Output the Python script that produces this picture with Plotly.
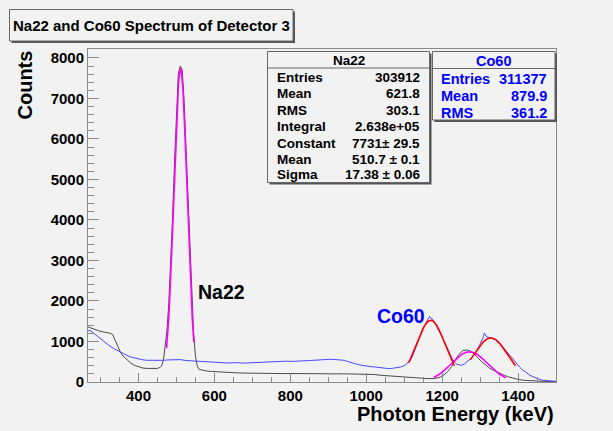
import plotly.graph_objects as go
import numpy as np

# ---------------- data ----------------
na22_x = [267, 275, 285, 295, 305, 315, 325, 332, 338, 345, 352, 360, 370, 380, 390, 400, 410, 420, 430, 440,
          450, 457, 462, 466, 470, 475, 480, 485, 490, 495, 500, 505, 510, 515, 520, 525, 530, 535, 540, 545,
          550, 555, 560, 570, 580, 590, 600, 620, 640, 660, 680, 700, 720, 740, 760, 780, 800, 820, 840, 860,
          880, 900, 920, 940, 960, 980, 1000, 1020, 1040, 1060, 1080, 1100, 1120, 1140, 1160, 1180, 1195, 1205,
          1215, 1225, 1235, 1245, 1255, 1265, 1275, 1285, 1295, 1305, 1315, 1325, 1335, 1345, 1355, 1365, 1375,
          1385, 1400, 1415, 1430, 1450, 1470, 1500]
na22_y = [1360, 1330, 1290, 1265, 1240, 1225, 1205, 1170, 1050, 880, 745, 635, 545, 465, 410, 375, 348, 336, 330, 328,
          335, 360, 420, 560, 830, 1270, 1955, 2910, 4110, 5440, 6690, 7620, 7800, 7720, 6980, 5790, 4450, 3190, 2150, 1250,
          640, 390, 310, 285, 270, 262, 255, 240, 232, 225, 220, 215, 212, 214, 210, 208, 210, 206, 204, 207,
          203, 205, 200, 203, 198, 200, 195, 185, 165, 150, 140, 125, 108, 92, 85, 85, 120, 175,
          260, 380, 560, 690, 780, 790, 760, 690, 590, 490, 420, 340, 290, 240, 200, 160, 125,
          95, 65, 42, 30, 22, 15, 10]

co60_x = [267, 272, 278, 285, 292, 299, 310, 320, 335, 348, 361, 378, 395, 410, 422, 440, 455, 466, 480, 495,
          510, 525, 540, 554, 570, 585, 598, 615, 630, 642, 660, 675, 686, 700, 715, 730, 745, 760, 774, 790,
          805, 818, 835, 850, 862, 875, 890, 905, 918, 932, 942, 950, 960, 976, 990, 1002, 1015, 1025, 1037, 1050,
          1064, 1078, 1090, 1100, 1108, 1115, 1121, 1128, 1134, 1141, 1147, 1154, 1160, 1164, 1167, 1170, 1174, 1180,
          1187, 1193, 1200, 1207, 1213, 1220, 1226, 1233, 1239, 1246, 1252, 1259, 1266, 1272, 1279, 1285, 1292, 1298,
          1305, 1309, 1311, 1314, 1318, 1325, 1332, 1338, 1345, 1351, 1358, 1364, 1371, 1378, 1384, 1391, 1397, 1404,
          1411, 1418, 1424, 1431, 1437, 1444, 1450, 1458, 1467, 1476, 1485, 1492, 1500]
co60_y = [1260, 1275, 1235, 1180, 1120, 1070, 990, 920, 825, 755, 700, 620, 580, 550, 536, 530, 540, 536, 545, 548,
          553, 530, 520, 511, 500, 490, 479, 485, 472, 470, 478, 465, 470, 480, 488, 494, 500, 505, 511, 515,
          508, 519, 525, 530, 536, 545, 550, 561, 555, 553, 535, 511, 480, 437, 410, 387, 375, 370, 350, 340,
          330, 345, 370, 400, 453, 520, 617, 780, 947, 1110, 1276, 1390, 1481, 1540, 1620, 1575, 1563, 1470,
          1358, 1240, 1111, 970, 825, 690, 577, 490, 437, 420, 412, 450, 494, 550, 617, 700, 783, 900,
          1030, 1120, 1210, 1160, 1111, 1100, 1087, 1060, 1030, 970, 906, 820, 741, 660, 577, 500, 437, 370,
          306, 255, 207, 170, 140, 110, 84, 60, 42, 30, 25, 20, 15]

# gaussian fits: [constant, mean, sigma, x_min, x_max]
na22_fit_511 = [7731, 510.7, 17.38, 474, 546]
na22_fit_1274 = [745, 1272, 48, 1178, 1368]
co60_fit_1173 = [1523, 1170, 38, 1112, 1232]
co60_fit_1332 = [1087, 1328, 46, 1274, 1393]

x_ticks = [400, 600, 800, 1000, 1200, 1400]
y_ticks = [0, 1000, 2000, 3000, 4000, 5000, 6000, 7000, 8000]

na22_stats = [("Entries", "303912"), ("Mean", "621.8"), ("RMS", "303.1"), ("Integral", "2.638e+05"),
              ("Constant", "7731\u00b1 29.5"), ("Mean", "510.7 \u00b1 0.1"), ("Sigma", "17.38 \u00b1 0.06")]
co60_stats = [("Entries", "311377"), ("Mean", "879.9"), ("RMS", "361.2")]

# ---------------- layout helpers ----------------
W, H = 613, 431
L, R, T, B = 88, 556, 49, 382
FONT = "Liberation Sans, Arial, Helvetica, sans-serif"
BG = "#f2f2f2"
AX = "#8a8a8a"


def px(x):
    return (x - L) / (R - L)


def py(y):
    return (B - y) / (B - T)


def fit_curve(p):
    xs = np.linspace(p[3], p[4], 120)
    return xs, p[0] * np.exp(-0.5 * ((xs - p[1]) / p[2]) ** 2)


fig = go.Figure()
fig.add_trace(go.Scatter(x=na22_x, y=na22_y, mode="lines", line=dict(color="#4a4a4a", width=1), hoverinfo="skip"))
fig.add_trace(go.Scatter(x=co60_x, y=co60_y, mode="lines", line=dict(color="#4848ff", width=1), hoverinfo="skip"))
for p, c in [(na22_fit_511, "#ff00ff"), (na22_fit_1274, "#ff00ff"), (co60_fit_1173, "#ff0000"), (co60_fit_1332, "#ff0000")]:
    xs, ys = fit_curve(p)
    fig.add_trace(go.Scatter(x=xs, y=ys, mode="lines", line=dict(color=c, width=1.6), hoverinfo="skip"))

shapes = []
annotations = []


def box(x0, y0, x1, y1, header_y=None):
    shapes.append(dict(type="rect", xref="paper", yref="paper", x0=px(x0 + 2), y0=py(y1 + 2), x1=px(x1 + 2), y1=py(y0 + 2),
                       line=dict(width=0), fillcolor="#555555", layer="above"))
    shapes.append(dict(type="rect", xref="paper", yref="paper", x0=px(x0), y0=py(y1), x1=px(x1), y1=py(y0),
                       line=dict(width=1, color="#666666"), fillcolor=BG, layer="above"))
    if header_y is not None:
        shapes.append(dict(type="line", xref="paper", yref="paper", x0=px(x0), y0=py(header_y), x1=px(x1), y1=py(header_y),
                           line=dict(width=1, color="#666666"), layer="above"))


def text(t, x, y, size, color="black", xanchor="left", angle=0, yanchor="middle"):
    annotations.append(dict(text=t, x=px(x), y=py(y), xref="paper", yref="paper", showarrow=False,
                            xanchor=xanchor, yanchor=yanchor, textangle=angle,
                            font=dict(family=FONT, size=size, color=color, weight="bold")))


# title box
box(9.5, 9.5, 293, 41)
text("Na22 and Co60 Spectrum of Detector 3", 151, 26, 15, xanchor="center")

# Na22 stats box
box(267.5, 51.5, 429.5, 182.5, header_y=68)
text("Na22", 348.5, 60.5, 13.5, xanchor="center")
rows_y = [77.5, 94, 110, 126, 143, 159.5, 174.5]
for (k, v), yy in zip(na22_stats, rows_y):
    text(k, 275, yy, 13.5)
    text(v, 422, yy, 13.5, xanchor="right")

# Co60 stats box
box(432.5, 51.5, 555, 120, header_y=68.5)
text("Co60", 493.5, 60.5, 14.5, color="#0000ff", xanchor="center")
for (k, v), yy in zip(co60_stats, [79, 96, 113]):
    text(k, 439, yy, 14.5, color="#0000ff")
    text(v, 549, yy, 14.5, color="#0000ff", xanchor="right")

# peak labels
text("Na22", 196, 292, 19.5)
text("Co60", 375, 316, 19.5, color="#0000ff")

# axis titles
text("Counts", 24, 49, 20, xanchor="center", angle=-90, yanchor="top")
text("Photon Energy (keV)", 556, 414, 20, xanchor="right")

fig.update_layout(
    width=W, height=H,
    margin=dict(l=L, r=W - R, t=T, b=H - B, pad=0),
    paper_bgcolor=BG, plot_bgcolor=BG,
    showlegend=False,
    shapes=shapes, annotations=annotations,
    xaxis=dict(range=[267, 1500], tickvals=x_ticks, ticktext=[str(v) for v in x_ticks],
               ticks="inside", ticklen=9, tickwidth=1, tickcolor=AX,
               minor=dict(dtick=50, tick0=0, ticks="inside", ticklen=5, tickcolor=AX, showgrid=False),
               showline=True, linecolor=AX, linewidth=1, mirror=True, showgrid=False, zeroline=False,
               tickfont=dict(family=FONT, size=15, color="black", weight="bold")),
    yaxis=dict(range=[0, 8220], tickvals=y_ticks, ticktext=[str(v) for v in y_ticks],
               ticks="inside", ticklen=11, tickwidth=1, tickcolor=AX,
               minor=dict(dtick=200, tick0=0, ticks="inside", ticklen=6, tickcolor=AX, showgrid=False),
               showline=True, linecolor=AX, linewidth=1, mirror=True, showgrid=False, zeroline=False,
               tickfont=dict(family=FONT, size=15, color="black", weight="bold")),
)

fig.write_html("out.html", config={"displayModeBar": False},
               post_script="document.body.style.margin='0';document.body.style.background='#f2f2f2';")
